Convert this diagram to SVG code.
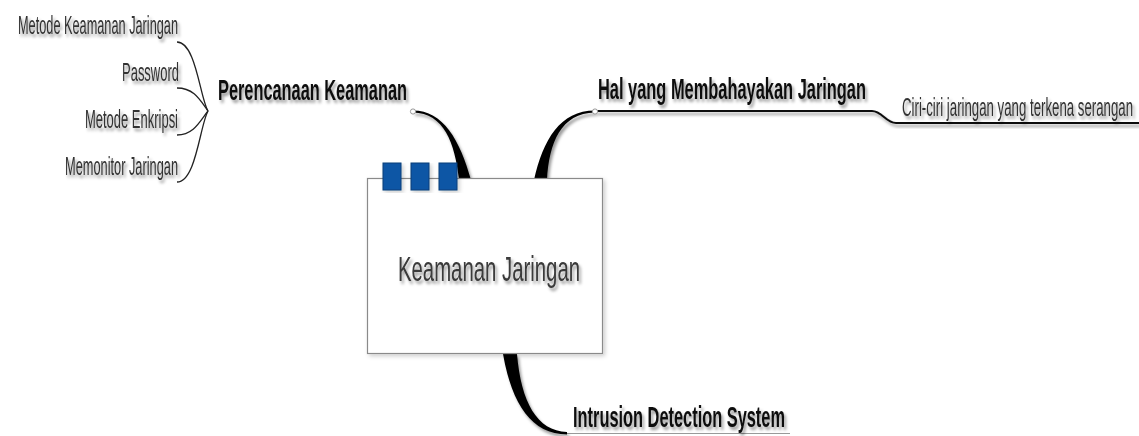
<svg xmlns="http://www.w3.org/2000/svg" width="1139" height="436" viewBox="0 0 1139 436">
  <defs>
    <filter id="shadow" x="-10%" y="-30%" width="120%" height="180%">
      <feGaussianBlur in="SourceAlpha" stdDeviation="1.4" result="b"/>
      <feOffset in="b" dx="2" dy="3" result="o"/>
      <feFlood flood-color="#000" flood-opacity="0.4"/>
      <feComposite in2="o" operator="in" result="s"/>
      <feMerge><feMergeNode in="s"/><feMergeNode in="SourceGraphic"/></feMerge>
    </filter>
    <filter id="boxShadow" x="-5%" y="-5%" width="115%" height="115%">
      <feGaussianBlur in="SourceAlpha" stdDeviation="2" result="b"/>
      <feOffset in="b" dx="2" dy="2" result="o"/>
      <feFlood flood-color="#000" flood-opacity="0.2"/>
      <feComposite in2="o" operator="in" result="s"/>
      <feMerge><feMergeNode in="s"/><feMergeNode in="SourceGraphic"/></feMerge>
    </filter>
  </defs>
  <style>
    text { font-family: "Liberation Sans", Arial, sans-serif; }
    .l2 { font-size: 26px; fill: #333; filter: url(#shadow); }
    .l1 { font-size: 29px; font-weight: bold; fill: #111; filter: url(#shadow); }
    .root { font-size: 35px; fill: #3a3a3a; filter: url(#shadow); }
    .under2 { fill: none; stroke: #333; stroke-width: 2; filter: url(#shadow); }
    .under1 { fill: none; stroke: #111; stroke-width: 2; filter: url(#shadow); }
    .fan { fill: none; stroke: #222; stroke-width: 1.3; }
    .thick { fill: #000; filter: url(#shadow); }
    .knob { fill: #fff; stroke: #999; stroke-width: 1; }
    .tab { fill: #0f56a5; stroke: #0a3c78; stroke-width: 1; }
  </style>

  <rect width="1139" height="436" fill="#fff"/>

  <!-- connectors -->
  <g id="connectors">
    <!-- left fan into Perencanaan Keamanan -->
    <path class="fan" d="M177,42 C196,42 200,98 208,111"/>
    <path class="fan" d="M177,88 C194,88 200,100 208,111"/>
    <path class="fan" d="M177,135 C194,135 200,121 208,111"/>
    <path class="fan" d="M177,182 C196,182 200,125 208,111"/>
    <path class="under1" d="M208,111 L413,111"/>
    <!-- Hal yang Membahayakan Jaringan underline stepping down to its child -->
    <path class="under1" d="M595,111 L872,111 C882,111 886,123 896,123 L1139,123"/>
    <!-- Intrusion Detection System underline -->
    <path fill="none" stroke="#999" stroke-width="1.2" d="M567,433.5 L790,433.5"/>
    <!-- tapered branches from the root -->
    <path class="thick" d="M413,110.5 C443,110.5 460,140 471,180 L459,180 C455,143 444,113 413,112.5 Z"/>
    <path class="thick" d="M534,180 C543,140 560,110.5 595,110.5 L595,112.5 C561,113 549,143 547,180 Z"/>
    <path class="thick" d="M503,354 C512,405 532,434 567,434.5 L567,432 C537,431 521,402 517,354 Z"/>
    <circle class="knob" cx="413" cy="111.5" r="2.6"/>
    <circle class="knob" cx="595" cy="111.5" r="2.6"/>
  </g>

  <!-- root node -->
  <g id="node-root">
    <rect x="367.5" y="178.5" width="235" height="175" fill="#fff" stroke="#8a8a8a" stroke-width="1.2" filter="url(#boxShadow)"/>
    <g filter="url(#boxShadow)">
      <rect class="tab" x="383" y="163" width="18" height="27"/>
      <rect class="tab" x="411" y="163" width="18" height="27"/>
      <rect class="tab" x="439" y="163" width="18" height="27"/>
    </g>
    <text class="root" x="398" y="281" textLength="182" lengthAdjust="spacingAndGlyphs">Keamanan Jaringan</text>
  </g>

  <!-- main topics -->
  <g id="node-perencanaan">
    <text class="l1" x="218" y="100" textLength="189" lengthAdjust="spacingAndGlyphs">Perencanaan Keamanan</text>
  </g>
  <g id="node-hal">
    <text class="l1" x="598" y="99" textLength="268" lengthAdjust="spacingAndGlyphs">Hal yang Membahayakan Jaringan</text>
  </g>
  <g id="node-ids">
    <text class="l1" x="573" y="427" textLength="212" lengthAdjust="spacingAndGlyphs">Intrusion Detection System</text>
  </g>

  <!-- subtopics -->
  <g id="node-metode-keamanan">
    <path class="under2" d="M10,42 L177,42"/>
    <text class="l2" x="18" y="34" textLength="160" lengthAdjust="spacingAndGlyphs">Metode Keamanan Jaringan</text>
  </g>
  <g id="node-password">
    <path class="under2" d="M115,88 L177,88"/>
    <text class="l2" x="122" y="81" textLength="57" lengthAdjust="spacingAndGlyphs">Password</text>
  </g>
  <g id="node-enkripsi">
    <path class="under2" d="M80,135 L177,135"/>
    <text class="l2" x="85" y="128" textLength="93" lengthAdjust="spacingAndGlyphs">Metode Enkripsi</text>
  </g>
  <g id="node-memonitor">
    <path class="under2" d="M58,182 L177,182"/>
    <text class="l2" x="65" y="175" textLength="113" lengthAdjust="spacingAndGlyphs">Memonitor Jaringan</text>
  </g>
  <g id="node-ciri">
    <text class="l2" x="902" y="116" textLength="231" lengthAdjust="spacingAndGlyphs">Ciri-ciri jaringan yang terkena serangan</text>
  </g>
</svg>
